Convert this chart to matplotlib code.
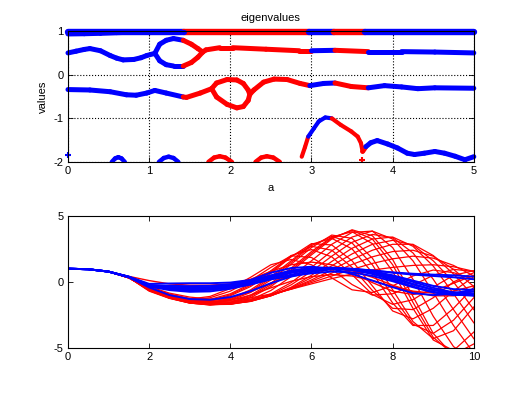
import numpy as np
import matplotlib
matplotlib.use("Agg")
import matplotlib.pyplot as plt
from matplotlib.collections import LineCollection

plt.rcParams['font.family'] = ['Liberation Sans', 'DejaVu Sans']
plt.rcParams['font.size'] = 8
plt.rcParams['axes.unicode_minus'] = False

BLUE = (0, 0, 1)
RED = (1, 0, 0)

# ---- top panel: eigenvalue branches (a, value) ----
# colour of a column depends on a: red where unstable
red_ranges = [(1.43, 2.97), (3.28, 3.66)]

a_A1 = [0, 1.43, 2.97, 3.28, 3.66, 5.0]
v_A1 = [0.99, 0.99, 0.99, 0.99, 0.99, 0.99]
a_A2 = [0, 0.2, 0.4, 0.6, 0.8, 1.43]
v_A2 = [0.935, 0.94, 0.95, 0.965, 0.975, 0.975]

a_B_left = [0, 0.1, 0.2, 0.27, 0.4, 0.52, 0.6, 0.68, 0.81, 0.9, 0.97, 1.07]
v_B_left = [0.50, 0.54, 0.58, 0.60, 0.55, 0.44, 0.38, 0.34, 0.35, 0.39, 0.44, 0.49]
a_B_up = [1.07, 1.13, 1.21, 1.30, 1.42, 1.52, 1.60, 1.66]
v_B_up = [0.49, 0.70, 0.79, 0.83, 0.79, 0.70, 0.60, 0.52]
a_B_lo = [1.07, 1.13, 1.21, 1.30, 1.42, 1.52, 1.60, 1.66]
v_B_lo = [0.49, 0.32, 0.23, 0.20, 0.20, 0.28, 0.40, 0.52]
a_B_right = [1.66, 1.70, 1.87, 2.03, 2.44, 2.85, 3.0, 3.29, 3.70, 4.11, 4.52, 5.0]
v_B_right = [0.52, 0.57, 0.62, 0.62, 0.585, 0.55, 0.55, 0.56, 0.53, 0.53, 0.52, 0.50]

a_C_left = [0, 0.27, 0.52, 0.72, 0.84, 0.97, 1.07, 1.21, 1.42, 1.46, 1.63, 1.77]
v_C_left = [-0.34, -0.35, -0.39, -0.46, -0.47, -0.42, -0.36, -0.42, -0.51, -0.52, -0.42, -0.32]
a_C_up = [1.77, 1.83, 1.96, 2.08, 2.16, 2.22, 2.24]
v_C_up = [-0.32, -0.19, -0.11, -0.12, -0.20, -0.35, -0.45]
a_C_lo = [1.77, 1.83, 1.96, 2.08, 2.16, 2.22, 2.24]
v_C_lo = [-0.32, -0.51, -0.68, -0.76, -0.73, -0.59, -0.45]
a_C_right = [2.24, 2.29, 2.41, 2.54, 2.70, 2.86, 2.98, 3.15, 3.29, 3.49, 3.70, 3.90, 4.11, 4.31, 4.52, 5.0]
v_C_right = [-0.45, -0.35, -0.17, -0.10, -0.11, -0.20, -0.25, -0.20, -0.19, -0.27, -0.30, -0.25, -0.28, -0.32, -0.30, -0.31]

a_D1 = [2.88, 2.92, 2.96, 3.03, 3.09, 3.17, 3.25, 3.36, 3.49, 3.57, 3.61, 3.63]
v_D1 = [-1.88, -1.66, -1.42, -1.23, -1.07, -0.98, -1.00, -1.15, -1.30, -1.42, -1.57, -1.76]
a_D2 = [3.63, 3.67, 3.73, 3.81, 3.94, 4.06, 4.18, 4.27, 4.39, 4.52, 4.64, 4.77, 4.89, 5.0]
v_D2 = [-1.76, -1.65, -1.56, -1.51, -1.59, -1.68, -1.80, -1.83, -1.80, -1.76, -1.80, -1.87, -1.95, -1.88]

humps_a = [[0.54, 0.58, 0.62, 0.66, 0.70],
           [1.12, 1.18, 1.24, 1.30, 1.36],
           [1.73, 1.80, 1.87, 1.94, 2.02],
           [2.31, 2.38, 2.45, 2.53, 2.61]]
humps_v = [[-2.0, -1.92, -1.89, -1.92, -2.0],
           [-2.0, -1.91, -1.88, -1.91, -2.0],
           [-2.0, -1.90, -1.87, -1.90, -2.0],
           [-2.0, -1.90, -1.87, -1.90, -2.0]]

# ---- bottom panel: trajectories x(t) ----
t = [0, 0.5, 1, 1.5, 2, 2.5, 3, 3.5, 4, 4.5, 5, 5.5, 6, 6.5, 7, 7.5, 8, 8.5, 9, 9.5, 10]
start = [1.0, 0.96, 0.78]

# strongly growing (unstable) runs
red_curves = [
    start + [0.30, -0.48, -1.05, -1.30, -1.10, -0.50, 0.35, 1.30, 1.70, 1.30, 0.30, -0.60, -0.80, -0.30, 0.45, 0.90, 0.70, 0.20],
    start + [0.30, -0.50, -1.10, -1.35, -1.20, -0.70, 0.10, 1.10, 1.98, 1.85, 0.95, -0.20, -1.00, -0.90, -0.25, 0.50, 0.95, 0.80],
    start + [0.30, -0.52, -1.15, -1.42, -1.32, -0.90, -0.15, 0.85, 2.00, 2.45, 1.90, 0.55, -0.95, -1.70, -1.35, -0.40, 0.50, 0.85],
    start + [0.30, -0.53, -1.17, -1.46, -1.40, -0.98, -0.25, 0.75, 1.95, 2.70, 2.40, 1.10, -0.65, -2.00, -2.10, -1.20, 0.00, 0.70],
    start + [0.31, -0.55, -1.20, -1.50, -1.45, -1.05, -0.35, 0.65, 1.90, 2.90, 2.80, 1.60, -0.30, -2.20, -2.80, -2.00, -0.70, 0.40],
    start + [0.31, -0.55, -1.18, -1.52, -1.57, -1.25, -0.60, 0.40, 1.60, 2.85, 3.30, 2.50, 0.70, -1.60, -3.30, -3.30, -2.00, -0.40],
    start + [0.32, -0.56, -1.19, -1.55, -1.61, -1.33, -0.70, 0.28, 1.48, 2.75, 3.45, 2.95, 1.30, -1.10, -3.20, -3.90, -2.90, -1.20],
    start + [0.32, -0.58, -1.20, -1.58, -1.65, -1.40, -0.80, 0.15, 1.35, 2.60, 3.55, 3.30, 1.80, -0.60, -3.00, -4.30, -3.70, -1.90],
    start + [0.32, -0.62, -1.22, -1.60, -1.72, -1.55, -1.00, -0.10, 1.05, 2.30, 3.40, 3.80, 2.90, 0.80, -2.00, -4.40, -5.20, -3.80],
    start + [0.33, -0.66, -1.23, -1.60, -1.74, -1.60, -1.10, -0.22, 0.92, 2.18, 3.33, 3.90, 3.25, 1.30, -1.55, -4.20, -5.50, -4.70],
    start + [0.33, -0.70, -1.25, -1.60, -1.75, -1.65, -1.20, -0.35, 0.80, 2.05, 3.25, 3.95, 3.50, 1.70, -1.10, -3.90, -5.60, -5.40],
    start + [0.33, -0.65, -1.20, -1.55, -1.72, -1.70, -1.35, -0.65, 0.40, 1.60, 2.85, 3.75, 3.85, 2.60, 0.20, -2.60, -4.90, -6.00],
    start + [0.34, -0.60, -1.15, -1.50, -1.68, -1.70, -1.45, -0.90, -0.05, 1.10, 2.35, 3.40, 3.85, 3.25, 1.60, -0.80, -3.30, -5.40],
    start + [0.34, -0.58, -1.12, -1.46, -1.65, -1.68, -1.47, -0.98, -0.22, 0.80, 1.95, 3.00, 3.60, 3.35, 2.20, 0.20, -2.10, -4.30],
    start + [0.34, -0.55, -1.08, -1.42, -1.62, -1.65, -1.48, -1.05, -0.40, 0.50, 1.55, 2.55, 3.25, 3.40, 2.70, 1.20, -0.90, -3.10],
    start + [0.35, -0.52, -1.04, -1.38, -1.58, -1.62, -1.46, -1.05, -0.45, 0.32, 1.22, 2.12, 2.85, 3.15, 2.80, 1.60, 0.00, -2.10],
    start + [0.35, -0.50, -1.00, -1.35, -1.55, -1.60, -1.45, -1.05, -0.50, 0.15, 0.90, 1.70, 2.40, 2.85, 2.85, 2.00, 0.60, -1.10],
    start + [0.36, -0.46, -0.96, -1.30, -1.48, -1.52, -1.38, -1.02, -0.52, 0.05, 0.67, 1.32, 1.90, 2.30, 2.40, 1.95, 0.95, -0.35],
    start + [0.36, -0.42, -0.92, -1.25, -1.42, -1.45, -1.30, -0.98, -0.55, -0.05, 0.45, 0.95, 1.40, 1.75, 1.95, 1.80, 1.25, 0.45],
    start + [0.37, -0.35, -0.85, -1.15, -1.30, -1.32, -1.20, -0.92, -0.55, -0.15, 0.25, 0.60, 0.90, 1.10, 1.25, 1.30, 1.15, 0.80],
]

# weakly growing runs that stay near the stable band
red_weak = [
    start + [0.34, -0.45, -1.05, -1.35, -1.40, -1.20, -0.75, -0.10, 0.50, 0.90, 1.05, 0.85, 0.35, -0.25, -0.75, -1.05, -1.05, -0.70],
    start + [0.35, -0.50, -1.10, -1.45, -1.55, -1.40, -1.00, -0.45, 0.05, 0.40, 0.55, 0.45, 0.10, -0.35, -0.70, -0.85, -0.70, -0.30],
    start + [0.42, 0.10, -0.15, -0.25, -0.25, -0.15, 0.20, 0.80, 1.30, 1.50, 1.30, 0.70, -0.05, -0.70, -0.95, -0.70, -0.10, 0.50],
]

blue_curves = [
    start + [0.40, -0.15, -0.12, -0.10, -0.10, -0.05, 0.15, 0.70, 1.05, 1.15, 1.00, 0.60, 0.10, -0.40, -0.85, -1.00, -0.90, -0.55],
    start + [0.38, -0.30, -0.55, -0.65, -0.60, -0.40, -0.10, 0.30, 0.70, 0.98, 1.05, 0.95, 0.65, 0.25, -0.20, -0.60, -0.80, -0.75],
    start + [0.37, -0.28, -0.45, -0.52, -0.50, -0.35, -0.05, 0.35, 0.70, 0.95, 1.02, 0.98, 0.80, 0.50, 0.10, -0.30, -0.55, -0.60],
    start + [0.36, -0.35, -0.62, -0.75, -0.72, -0.52, -0.20, 0.20, 0.55, 0.85, 1.00, 0.90, 0.60, 0.15, -0.35, -0.75, -0.95, -0.90],
    start + [0.37, -0.30, -0.40, -0.45, -0.42, -0.28, 0.00, 0.40, 0.75, 0.95, 1.00, 0.98, 0.80, 0.45, 0.00, -0.45, -0.80, -0.95],
    start + [0.35, -0.42, -1.00, -1.30, -1.35, -1.15, -0.70, -0.10, 0.40, 0.75, 0.95, 0.95, 0.75, 0.35, -0.15, -0.60, -0.95, -1.05],
    start + [0.38, -0.25, -0.30, -0.32, -0.30, -0.18, 0.10, 0.50, 0.85, 1.02, 1.05, 0.98, 0.88, 0.70, 0.55, 0.45, 0.35, 0.20],
    start + [0.39, -0.22, -0.40, -0.45, -0.40, -0.25, 0.05, 0.45, 0.85, 1.05, 1.08, 1.00, 0.85, 0.72, 0.62, 0.55, 0.50, 0.40],
    start + [0.36, -0.33, -0.52, -0.60, -0.58, -0.45, -0.15, 0.20, 0.45, 0.65, 0.78, 0.72, 0.45, 0.05, -0.40, -0.80, -1.00, -0.95],
]


def col(a):
    for lo, hi in red_ranges:
        if lo <= a < hi:
            return RED
    return BLUE


def branch(ax, a, v, lw=3.6, clip=True):
    pts = np.column_stack([a, v])
    segs = np.stack([pts[:-1], pts[1:]], axis=1)
    cols = [col((a[i] + a[i + 1]) / 2) for i in range(len(a) - 1)]
    lc = LineCollection(segs, colors=cols, linewidths=lw, capstyle='round',
                        joinstyle='round', zorder=2)
    lc.set_clip_on(clip)
    ax.add_collection(lc)


def matlab_axes(ax):
    ax.tick_params(direction='in', top=True, right=True, length=3.5, width=0.6, pad=3)
    for s in ax.spines.values():
        s.set_linewidth(0.8)


fig = plt.figure(figsize=(5.25, 3.94), dpi=100)
ax1 = fig.add_axes([0.1295, 0.589, 0.773, 0.332])
ax2 = fig.add_axes([0.1295, 0.117, 0.773, 0.335])

branch(ax1, a_A1, v_A1, lw=4.6, clip=False)
branch(ax1, a_A2, v_A2, lw=3.6, clip=False)
for a, v in [(a_B_left, v_B_left), (a_B_up, v_B_up), (a_B_lo, v_B_lo), (a_B_right, v_B_right),
             (a_C_left, v_C_left), (a_C_up, v_C_up), (a_C_lo, v_C_lo), (a_C_right, v_C_right)]:
    branch(ax1, a, v, clip=False)
branch(ax1, a_D1, v_D1, lw=3.0)
branch(ax1, a_D2, v_D2, lw=3.6, clip=False)
for a, v in zip(humps_a, humps_v):
    branch(ax1, a, v, lw=3.2)
ax1.plot([3.62], [-1.95], '+', color=RED, ms=4, mew=1.5)
ax1.plot([0], [-1.85], '+', color=BLUE, ms=4, mew=1.5, clip_on=False)

ax1.set_xlim(0, 5)
ax1.set_ylim(-2, 1)
ax1.set_xticks([0, 1, 2, 3, 4, 5])
ax1.set_yticks([-2, -1, 0, 1])
ax1.grid(True, linestyle=':', color='k', linewidth=0.8)
ax1.set_title('eigenvalues', fontsize=8, pad=7)
ax1.set_xlabel('a', fontsize=8, labelpad=5)
ax1.set_ylabel('values', fontsize=8, labelpad=4)
matlab_axes(ax1)

for c in red_curves:
    ax2.plot(t, c, color=RED, lw=0.9)
for c in red_weak:
    ax2.plot(t, c, color=RED, lw=1.0)
for c in blue_curves:
    ax2.plot(t, c, color=BLUE, lw=1.4)
ax2.set_xlim(0, 10)
ax2.set_ylim(-5, 5)
ax2.set_xticks([0, 2, 4, 6, 8, 10])
ax2.set_yticks([-5, 0, 5])
matlab_axes(ax2)

fig.savefig('out.png', dpi=100)
